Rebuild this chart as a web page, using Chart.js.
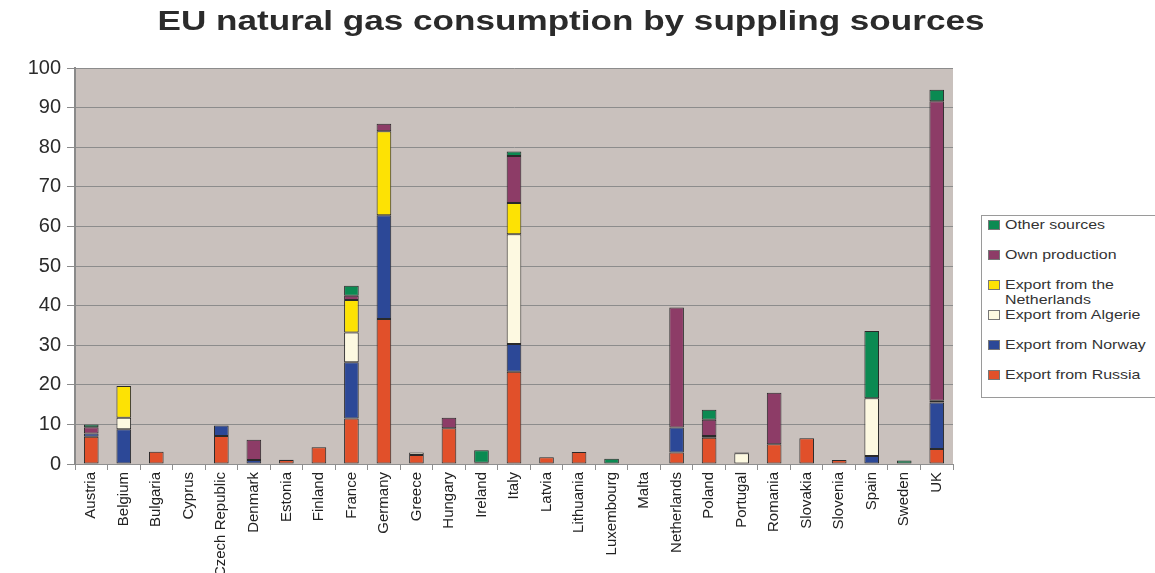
<!DOCTYPE html>
<html>
<head>
<meta charset="utf-8">
<script src="https://cdn.jsdelivr.net/npm/chart.js@4.4.1/dist/chart.umd.min.js"></script>
<style>
  html, body { margin: 0; padding: 0; background: #fff; }
  #wrap { position: relative; width: 1155px; height: 573px; overflow: hidden; }
  #legend {
    position: absolute; left: 981px; top: 215px; width: 190px; height: 183px;
    border: 1px solid #9a9a9a; background: #fff; box-sizing: border-box;
    font-family: "Liberation Sans", Arial, sans-serif; font-size: 13.5px; color: #333;
  }
  #legend .item { position: absolute; left: 6px; height: 16px; line-height: 15px; }
  #legend .box { position: absolute; left: 0; top: 3px; width: 12px; height: 10px; border: 1px solid #777; box-sizing: border-box; }
  #legend .txt {
    position: absolute; left: 17px; top: 0; width: 130px; white-space: normal;
    transform: scaleX(1.18); transform-origin: 0 0;
  }
</style>
</head>
<body>
<div id="wrap">
  <canvas id="chart-gas" width="1155" height="573"></canvas>
  <div id="legend"></div>
</div>
<script>
const countries = ['Austria', 'Belgium', 'Bulgaria', 'Cyprus', 'Czech Republic', 'Denmark', 'Estonia',
  'Finland', 'France', 'Germany', 'Greece', 'Hungary', 'Ireland', 'Italy', 'Latvia', 'Lithuania',
  'Luxembourg', 'Malta', 'Netherlands', 'Poland', 'Portugal', 'Romania', 'Slovakia', 'Slovenia',
  'Spain', 'Sweden', 'UK'];

// share of consumption by source, stacked bottom to top
const fromRussia      = [6.9, 0, 3.1, 0, 7.1, 0, 1.0, 4.2, 11.5, 36.6, 2.3, 9.0, 0, 23.3, 1.7, 3.0, 0, 0, 2.9, 6.6, 0, 5.0, 6.5, 1.0, 0, 0, 3.8];
const fromNorway      = [0.8, 8.8, 0, 0, 2.6, 1.0, 0, 0, 14.2, 26.2, 0, 0, 0, 7.0, 0, 0, 0, 0, 6.3, 0.5, 0, 0, 0, 0, 2.0, 0, 11.7];
const fromAlgerie     = [0, 2.9, 0, 0, 0, 0, 0, 0, 7.5, 0, 0.6, 0, 0, 27.7, 0, 0, 0, 0, 0, 0, 2.7, 0, 0, 0, 14.6, 0, 0.5];
const fromNetherlands = [0, 8.0, 0, 0, 0, 0, 0, 0, 8.2, 21.2, 0, 0, 0, 7.9, 0, 0, 0, 0, 0, 0, 0, 0, 0, 0, 0, 0, 0];
const ownProduction   = [1.6, 0, 0, 0, 0, 5.1, 0, 0, 1.1, 1.9, 0, 2.7, 0.3, 11.9, 0, 0, 0, 0, 30.3, 4.1, 0.2, 13.0, 0, 0, 0, 0, 75.6];
const otherSources    = [0.7, 0, 0, 0, 0, 0, 0.1, 0, 2.5, 0, 0, 0, 3.2, 1.1, 0, 0, 1.3, 0, 0, 2.5, 0, 0, 0, 0, 17.0, 0.9, 2.9];

const yTicks = [0, 10, 20, 30, 40, 50, 60, 70, 80, 90, 100];
const chartTitle = 'EU natural gas consumption by suppling sources';

const series = [
  { label: 'Export from Russia', data: fromRussia, color: '#e1502a' },
  { label: 'Export from Norway', data: fromNorway, color: '#2c4897' },
  { label: 'Export from Algerie', data: fromAlgerie, color: '#fdf9e1' },
  { label: 'Export from the Netherlands', data: fromNetherlands, color: '#fde204' },
  { label: 'Own production', data: ownProduction, color: '#8d3c67' },
  { label: 'Other sources', data: otherSources, color: '#0b8a52' }
];

// grey plot background
const plotBg = {
  id: 'plotBg',
  beforeDraw(chart) {
    const { ctx, chartArea: a } = chart;
    ctx.save();
    ctx.fillStyle = '#c9c1bd';
    ctx.fillRect(a.left, a.top, a.right - a.left, a.bottom - a.top);
    ctx.restore();
  }
};

// wide bold title across the top
const wideTitle = {
  id: 'wideTitle',
  afterDraw(chart) {
    const ctx = chart.ctx;
    ctx.save();
    ctx.translate(571, 23);
    ctx.scale(1.3, 1);
    ctx.font = 'bold 27px "Liberation Sans", Arial, sans-serif';
    ctx.fillStyle = '#2b2b2b';
    ctx.textAlign = 'center';
    ctx.textBaseline = 'middle';
    ctx.fillText(chartTitle, 0, 0);
    ctx.restore();
  }
};

const chart = new Chart(document.getElementById('chart-gas'), {
  type: 'bar',
  data: {
    labels: countries,
    datasets: series.map(s => ({
      label: s.label,
      data: s.data.map(v => v || null),
      backgroundColor: s.color,
      borderColor: '#2a2a2a',
      borderWidth: 1,
      borderSkipped: false,
      categoryPercentage: 1,
      barPercentage: 0.45
    }))
  },
  options: {
    responsive: false,
    animation: false,
    layout: { padding: { left: 0, right: 202, top: 68, bottom: 0 } },
    plugins: {
      legend: { display: false },
      tooltip: { enabled: false },
      title: { display: false }
    },
    scales: {
      x: {
        stacked: true,
        grid: { drawOnChartArea: false, color: '#8f8f8f', tickLength: 6, offset: true },
        border: { color: '#8f8f8f', width: 1 },
        ticks: {
          minRotation: 90, maxRotation: 90, autoSkip: false, padding: 2,
          color: '#222',
          font: { family: '"Liberation Sans", Arial, sans-serif', size: 15 }
        },
        afterFit(scale) { scale.height = 109; }
      },
      y: {
        stacked: true,
        min: 0, max: 100,
        afterBuildTicks(scale) { scale.ticks = yTicks.map(v => ({ value: v })); },
        grid: { color: '#8c8c8c', tickLength: 8 },
        border: { color: '#8a8a8a', width: 2 },
        ticks: {
          padding: 6,
          color: '#2b2b2b',
          font: { family: '"Liberation Sans", Arial, sans-serif', size: 20 }
        },
        afterFit(scale) { scale.width = 75; }
      }
    }
  },
  plugins: [plotBg, wideTitle]
});

// legend with topmost series first
const legendEl = document.getElementById('legend');
chart.data.datasets.slice().reverse().forEach((ds, i) => {
  const item = document.createElement('div');
  item.className = 'item';
  item.style.top = (1 + i * 30) + 'px';
  item.innerHTML = `<span class="box" style="background:${ds.backgroundColor}"></span><span class="txt">${ds.label}</span>`;
  legendEl.appendChild(item);
});
</script>
</body>
</html>
